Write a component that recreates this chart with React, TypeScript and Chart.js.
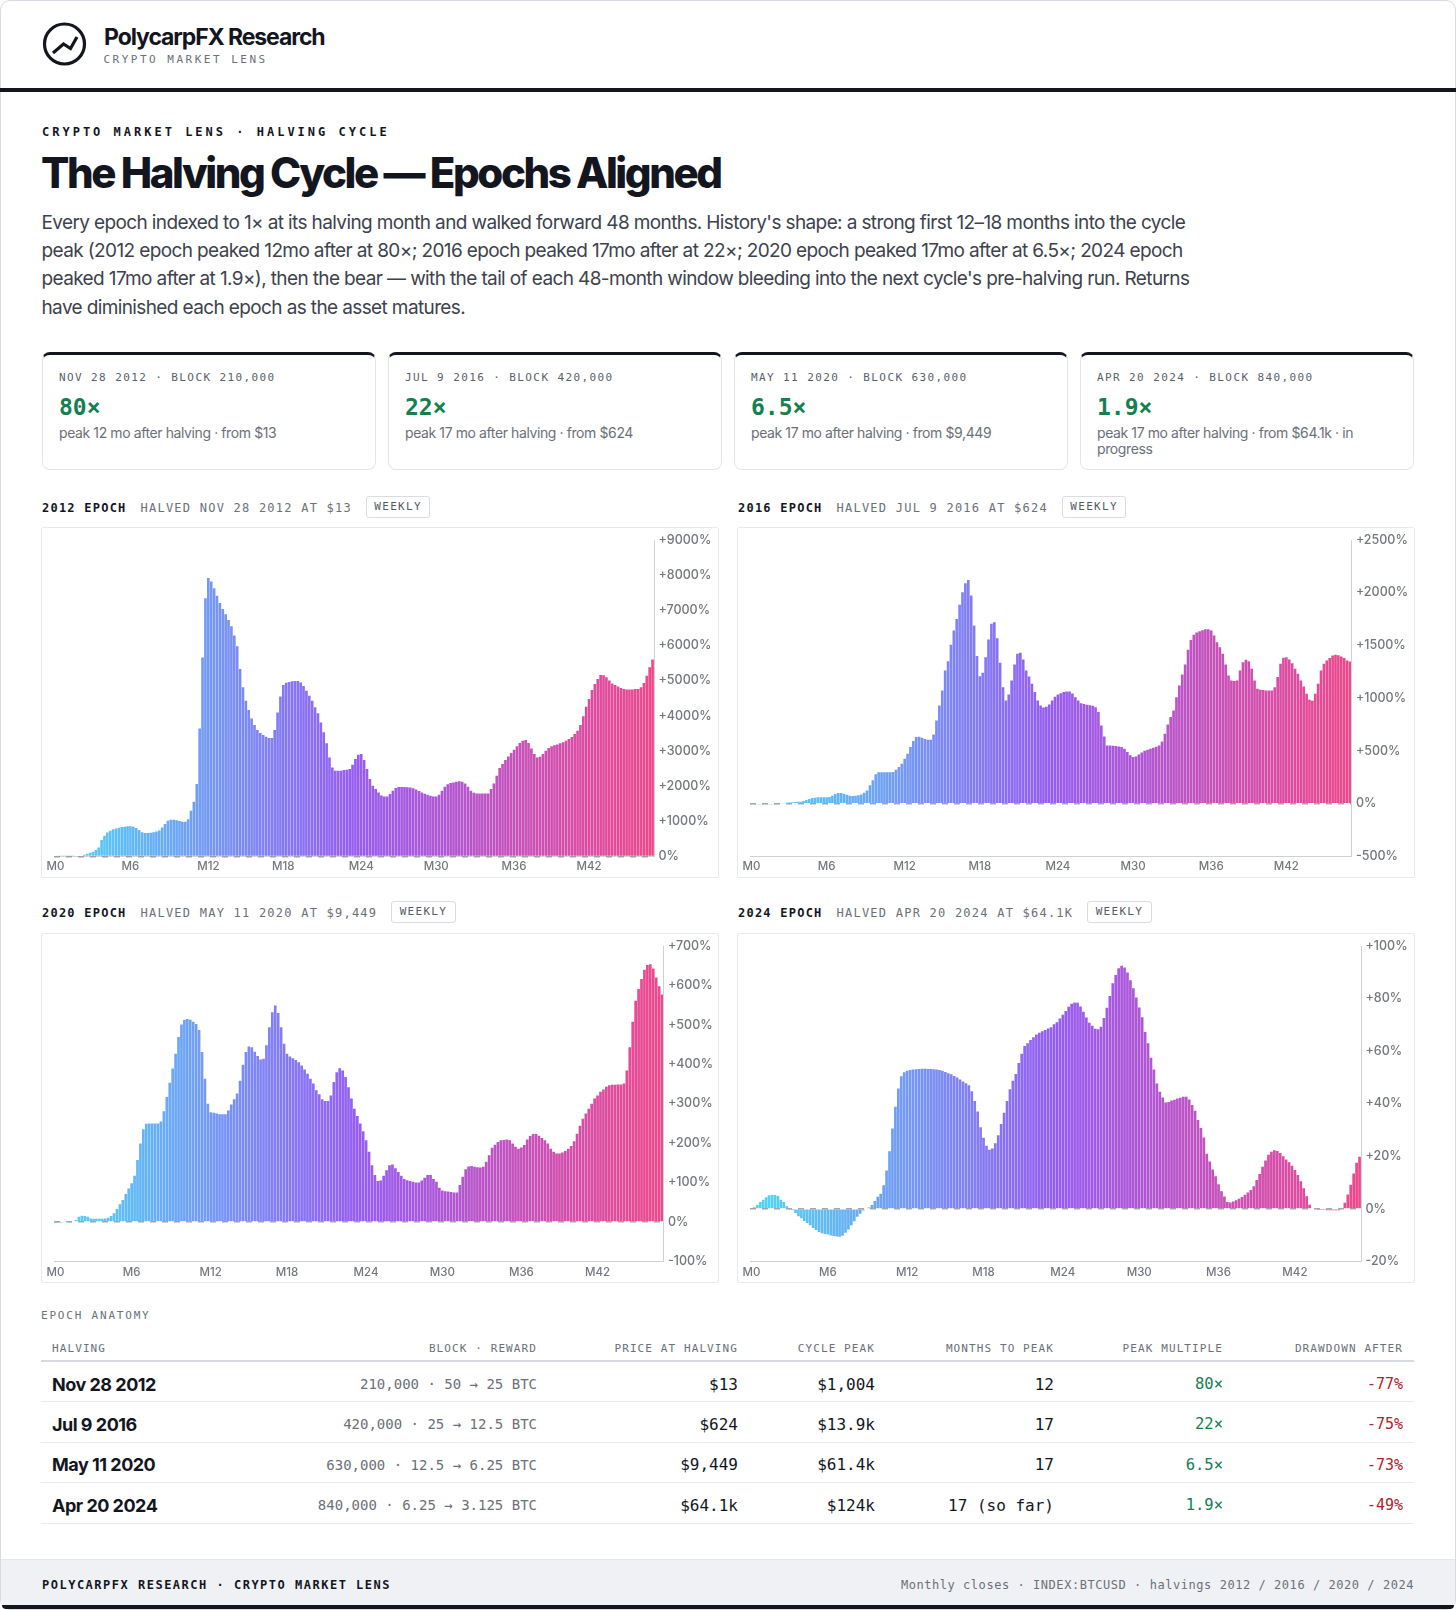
import React, { useEffect, useRef } from "react";
import { Chart, registerables } from "chart.js";
Chart.register(...registerables);

const pct2012 = [0,10,10,10,10,5,10,15,15,20,45,75,105,130,180,255,465,590,680,730,770,795,815,835,845,855,860,845,805,750,690,665,665,675,690,710,740,825,920,1015,1040,1045,1025,1005,985,985,1060,1300,1555,2060,3640,5660,7340,7920,7820,7630,7415,7205,7035,6885,6725,6545,6280,5975,5330,4810,4430,4165,3925,3735,3595,3510,3450,3405,3365,3365,3595,4095,4550,4875,4940,4960,4980,4990,4990,4950,4845,4715,4570,4430,4240,4070,3810,3530,3215,2815,2530,2435,2435,2435,2455,2465,2485,2610,2770,2890,2910,2740,2485,2200,2010,1915,1820,1735,1705,1705,1775,1870,1945,1975,1975,1975,1970,1960,1935,1905,1860,1820,1785,1755,1725,1705,1705,1755,1870,1980,2050,2085,2105,2125,2135,2125,2075,1980,1870,1810,1790,1790,1790,1790,1790,1915,2075,2295,2515,2625,2740,2845,2940,3035,3130,3225,3290,3310,3225,3070,2910,2815,2835,2910,3005,3080,3130,3160,3185,3215,3245,3290,3340,3395,3480,3575,3735,3985,4260,4475,4730,4905,5045,5160,5150,5095,5000,4920,4875,4830,4790,4760,4750,4750,4750,4760,4760,4810,4930,5140,5380,5600];
const pct2016 = [-3,-3,-3,-3,-3,-3,-2,-3,-2,-2,0,3,9,10,13,16,19,19,25,35,44,54,57,60,60,60,60,63,76,92,101,101,95,85,76,73,76,79,88,104,126,174,221,278,297,297,297,297,297,300,322,347,379,426,474,537,594,631,635,625,612,606,606,657,789,931,1073,1263,1351,1506,1642,1752,1885,2005,2090,2121,1973,1689,1399,1209,1241,1389,1556,1705,1720,1569,1335,1105,979,1035,1168,1320,1421,1430,1367,1263,1206,1137,1058,979,931,912,918,941,979,1013,1035,1048,1058,1064,1064,1045,1010,979,953,944,938,934,928,915,868,742,638,552,552,549,546,543,537,521,489,458,442,448,467,486,502,511,521,530,540,552,590,663,751,821,884,1010,1121,1225,1320,1459,1553,1601,1623,1635,1645,1654,1654,1642,1594,1531,1484,1421,1320,1215,1168,1162,1168,1263,1342,1364,1351,1279,1168,1089,1080,1077,1073,1073,1073,1105,1200,1326,1383,1389,1367,1332,1279,1231,1168,1111,1042,985,976,1042,1137,1263,1326,1358,1380,1405,1411,1408,1395,1380,1358,1348];
const pct2020 = [-1,-1,-1,-2,-2,-1,0,5,13,16,15,13,9,8,8,8,8,9,11,15,22,33,45,56,71,85,98,117,157,199,235,249,250,250,250,250,255,281,317,353,389,427,469,501,513,515,513,508,502,487,431,363,300,278,277,275,273,273,273,283,298,311,326,358,399,431,445,443,432,421,412,414,448,494,532,549,530,494,452,427,420,415,411,405,397,387,376,363,351,334,324,311,307,307,321,355,380,390,384,368,342,313,287,269,250,230,207,178,144,119,104,105,117,131,144,146,136,127,117,109,106,104,102,100,100,105,112,119,119,109,102,87,80,78,77,76,75,75,94,115,134,141,142,140,139,138,140,153,169,188,196,203,207,208,209,207,199,191,186,189,195,209,218,223,223,219,213,207,199,186,178,174,174,176,180,186,193,205,224,244,262,275,287,300,313,321,330,336,343,347,348,348,349,349,351,384,443,508,561,591,616,640,652,654,643,620,598,577];
const pct2024 = [0,0.6,1.5,2.6,3.5,4.4,5.2,5.3,5.3,4.9,3.5,2.6,1,-0.1,-0.5,-1.6,-2.8,-3.6,-4.6,-5.4,-6.2,-7.3,-8.1,-8.8,-9.3,-9.6,-9.8,-10.1,-10.3,-10.5,-10.6,-10.2,-9.1,-7.9,-6.2,-4.7,-3,-1.9,-0.6,0,0.5,1.5,3,4.6,5.7,9,14.6,21.9,30.6,38.8,45.8,50.4,52,52.5,52.8,53,53.1,53.2,53.3,53.3,53.2,53.2,53.1,53,52.8,52.5,52.1,51.6,51.2,50.5,50,49.2,48.4,47.8,47,44.7,41,37,31,27,24,22.5,23,25,28,32.3,36.6,41,45.5,48.7,51.3,55.5,59,62,63,64.2,65.3,66.3,67,67.6,68,68.6,69.1,70.2,71,72.4,73.8,75.3,76.9,78,78.5,78.4,77,75,72.8,70.8,69.7,68.5,68.3,69.3,72.6,76.5,81,85.8,89,91.5,92.5,91.8,89.9,87,83.9,80.4,76.6,72.9,67.3,63,57.5,53,47.7,44.5,42.4,40.5,40.6,41.2,41.5,42,42.3,42.6,42.6,41.6,39.5,37.3,33.8,30.8,27.1,21,18,15,12.4,9.4,6.7,4.7,2.6,2.4,2.8,3.3,3.8,4.5,5.4,6.2,7.2,8.6,11,13.3,16,18.4,20.6,21.7,22.3,22,21.2,20,18.8,17.7,16.4,14.8,12.9,10.5,7.8,4.8,1.6,0,-0.3,-0.4,-0.4,-0.4,-0.5,-0.5,-0.5,-0.5,-0.5,0,2.3,5.5,9.2,13.4,17.5,19.8];

const weekTickIndex = [0, 26, 53, 79, 106, 132, 159, 185];
const weekTickLabel = ["M0", "M6", "M12", "M18", "M24", "M30", "M36", "M42"];
const yMins = [0, -500, -100, -20];
const yMaxs = [9000, 2500, 700, 100];
const ySteps = [1000, 500, 100, 20];
const epochNames = ["2012 EPOCH", "2016 EPOCH", "2020 EPOCH", "2024 EPOCH"];
const epochNotes = ["HALVED NOV 28 2012 AT $13", "HALVED JUL 9 2016 AT $624", "HALVED MAY 11 2020 AT $9,449", "HALVED APR 20 2024 AT $64.1K"];
const epochSeries = [pct2012, pct2016, pct2020, pct2024];
const axisWidths = [64, 62.6, 54.5, 53];

const cardDates = ["NOV 28 2012 · BLOCK 210,000", "JUL 9 2016 · BLOCK 420,000", "MAY 11 2020 · BLOCK 630,000", "APR 20 2024 · BLOCK 840,000"];
const cardValues = ["80×", "22×", "6.5×", "1.9×"];
const cardNotes = ["peak 12 mo after halving · from $13", "peak 17 mo after halving · from $624", "peak 17 mo after halving · from $9,449", "peak 17 mo after halving · from $64.1k · in progress"];
const introLines = [
  "Every epoch indexed to 1× at its halving month and walked forward 48 months. History's shape: a strong first 12–18 months into the cycle",
  "peak (2012 epoch peaked 12mo after at 80×; 2016 epoch peaked 17mo after at 22×; 2020 epoch peaked 17mo after at 6.5×; 2024 epoch",
  "peaked 17mo after at 1.9×), then the bear — with the tail of each 48-month window bleeding into the next cycle's pre-halving run. Returns",
  "have diminished each epoch as the asset matures.",
];
const tableHead = ["HALVING", "BLOCK · REWARD", "PRICE AT HALVING", "CYCLE PEAK", "MONTHS TO PEAK", "PEAK MULTIPLE", "DRAWDOWN AFTER"];
const tableRows = [
  ["Nov 28 2012", "210,000 · 50 → 25 BTC", "$13", "$1,004", "12", "80×", "-77%"],
  ["Jul 9 2016", "420,000 · 25 → 12.5 BTC", "$624", "$13.9k", "17", "22×", "-75%"],
  ["May 11 2020", "630,000 · 12.5 → 6.25 BTC", "$9,449", "$61.4k", "17", "6.5×", "-73%"],
  ["Apr 20 2024", "840,000 · 6.25 → 3.125 BTC", "$64.1k", "$124k", "17 (so far)", "1.9×", "-49%"],
];
const colWidths = [190, 317, 201, 137, 179, 169, 180];

const MONO = '"DejaVu Sans Mono", monospace';
const SANS = 'Inter, sans-serif';
const INK = "#14161f";
const GREY = "#6b7079";

const colorStops = [[80, 216, 248], [150, 92, 242], [238, 72, 140]];
function barColor(t: number) {
  const s = t < 0.5 ? 0 : 1;
  const f = t < 0.5 ? t * 2 : (t - 0.5) * 2;
  const a = colorStops[s], b = colorStops[s + 1];
  return `rgb(${a.map((c, k) => Math.round(c + (b[k] - c) * f)).join(",")})`;
}

function EpochChart({ index }: { index: number }) {
  const ref = useRef<HTMLCanvasElement>(null);
  const bottomRow = index >= 2;
  const canvasHeight = bottomRow ? 348 : 349;
  useEffect(() => {
    const values = epochSeries[index];
    const labels = values.map((_, i) => {
      const k = weekTickIndex.indexOf(i);
      return k >= 0 ? weekTickLabel[k] : "";
    });
    const chart = new Chart(ref.current as HTMLCanvasElement, {
      type: "bar",
      data: {
        labels,
        datasets: [{
          data: values,
          backgroundColor: values.map((_, i) => barColor(i / (values.length - 1))),
          borderWidth: 0,
          barPercentage: 0.92,
          categoryPercentage: 1,
        }],
      },
      options: {
        animation: false,
        responsive: false,
        layout: { padding: { left: 12, top: 9.2, right: 0, bottom: 0 } },
        plugins: { legend: { display: false }, tooltip: { enabled: false } },
        scales: {
          x: {
            grid: { display: false, drawTicks: false },
            border: { display: true, color: "#cfd1d6", width: 1 },
            ticks: {
              autoSkip: false, maxRotation: 0, minRotation: 0, padding: bottomRow ? 4 : 3,
              font: { family: SANS, size: 11.5, weight: 500 }, color: "#74777e",
            },
            afterFit: (s: any) => { s.height = 20.6; },
          },
          y: {
            position: "right",
            min: yMins[index],
            max: yMaxs[index],
            grid: {
              z: 1,
              drawTicks: false,
              color: (c: any) => (c.tick && c.tick.value === 0 ? "rgba(150,152,158,0.85)" : "rgba(0,0,0,0)"),
              lineWidth: (c: any) => (c.tick && c.tick.value === 0 ? 1.4 : 0),
            },
            border: { display: true, color: "#cfd1d6", width: 1, dash: [6, 6], z: 2 },
            ticks: {
              stepSize: ySteps[index], padding: 4.5,
              font: { family: SANS, size: 12.5, weight: 500 }, color: "#74777e",
              callback: (v: any) => (Number(v) > 0 ? `+${v}%` : `${v}%`),
            },
            afterFit: (s: any) => { s.width = axisWidths[index]; },
          },
        },
      } as any,
    });
    return () => chart.destroy();
  }, [index]);
  return <canvas ref={ref} width={676} height={canvasHeight} style={{ display: "block", width: 676, height: canvasHeight }} />;
}

function Abs({ x, y, w, style, children }: any) {
  return <div style={{ position: "absolute", left: x, top: y, width: w, ...style }}>{children}</div>;
}

function Panel({ index, x, y, frameTop, frameHeight }: { index: number; x: number; y: number; frameTop: number; frameHeight: number }) {
  return (
    <>
      <Abs x={x + 1} y={y + 1} w={678} style={{ height: 22, display: "flex", alignItems: "center", gap: 14, fontFamily: MONO, fontSize: 12, letterSpacing: 1.23, whiteSpace: "nowrap" }}>
        <span style={{ fontWeight: 700, color: INK, position: "relative", top: 1 }}>{epochNames[index]}</span>
        <span style={{ color: GREY, position: "relative", top: 1 }}>{epochNotes[index]}</span>
        <span style={{ border: "1px solid #d9dce3", borderRadius: 3, height: 20, lineHeight: "20px", padding: "0 7.4px", fontSize: 11, letterSpacing: 1.3, color: "#555a64", boxSizing: "content-box" }}>WEEKLY</span>
      </Abs>
      <Abs x={x} y={frameTop} w={678} style={{ height: frameHeight, border: "1px solid #e8eaee", boxSizing: "border-box", borderRadius: 2 }}>
        <EpochChart index={index} />
      </Abs>
    </>
  );
}

export default function App() {
  const nowrap = { whiteSpace: "nowrap" as const };
  return (
    <div style={{ position: "relative", width: 1456, height: 1610, overflow: "hidden", background: "#fff", fontFamily: SANS }}>
      <style>{"body{margin:0;background:#fff}"}</style>
      <div style={{ position: "absolute", inset: 0, border: "1px solid #d8dbe2", borderRadius: 10, boxSizing: "border-box", pointerEvents: "none" }} />

      <svg style={{ position: "absolute", left: 42, top: 22 }} width="45" height="45" viewBox="0 0 45 45">
        <circle cx="22.5" cy="22" r="20" fill="none" stroke={INK} strokeWidth="3.2" />
        <polyline points="11,31 21.5,22 28.5,26.5 35,15" fill="none" stroke={INK} strokeWidth="3.2" strokeLinejoin="miter" />
      </svg>
      <Abs x={104} y={22} style={{ ...nowrap, fontSize: 23, lineHeight: "30px", fontWeight: 700, letterSpacing: -1.08, color: INK }}>PolycarpFX Research</Abs>
      <Abs x={103.5} y={52.5} style={{ ...nowrap, fontFamily: MONO, fontSize: 11, lineHeight: "14px", letterSpacing: 2.5, color: GREY }}>CRYPTO MARKET LENS</Abs>
      <div style={{ position: "absolute", left: 0, top: 88, width: 1456, height: 4, background: INK }} />

      <Abs x={42} y={123.5} style={{ ...nowrap, fontFamily: MONO, fontSize: 12, lineHeight: "16px", fontWeight: 600, letterSpacing: 3, color: INK }}>CRYPTO MARKET LENS · HALVING CYCLE</Abs>
      <Abs x={41} y={148} style={{ ...nowrap, fontSize: 42, lineHeight: "50px", fontWeight: 800, letterSpacing: -2.45, color: INK }}>The Halving Cycle — Epochs Aligned</Abs>
      {introLines.map((t, i) => (
        <Abs key={i} x={41.5} y={209 + i * 28.2} style={{ ...nowrap, fontSize: 19, lineHeight: "28px", letterSpacing: -0.62, color: "#3d424d" }}>{t}</Abs>
      ))}

      {cardDates.map((d, i) => (
        <Abs key={i} x={42 + i * 346} y={351.5} w={334} style={{ height: 118, boxSizing: "border-box", border: "1px solid #e3e5ea", borderTop: `3px solid ${INK}`, borderRadius: 8 }}>
          <div style={{ position: "absolute", left: 16, top: 16.5, ...nowrap, fontFamily: MONO, fontSize: 11, lineHeight: "14px", letterSpacing: 1.4, color: "#5a5f6a" }}>{d}</div>
          <div style={{ position: "absolute", left: 16, top: 37.3, ...nowrap, fontFamily: MONO, fontSize: 23, lineHeight: "30px", fontWeight: 700, color: "#14804f" }}>{cardValues[i]}</div>
          <div style={{ position: "absolute", left: 16, top: 70, width: 300, fontSize: 14, lineHeight: "16px", letterSpacing: -0.4, color: GREY }}>{cardNotes[i]}</div>
        </Abs>
      ))}

      <Panel index={0} x={41} y={494.5} frameTop={527} frameHeight={351} />
      <Panel index={1} x={737} y={494.5} frameTop={527} frameHeight={351} />
      <Panel index={2} x={41} y={899.7} frameTop={933} frameHeight={350} />
      <Panel index={3} x={737} y={899.7} frameTop={933} frameHeight={350} />

      <Abs x={41} y={1308} style={{ ...nowrap, fontFamily: MONO, fontSize: 11, lineHeight: "16px", letterSpacing: 1.8, color: GREY }}>EPOCH ANATOMY</Abs>
      <table style={{ position: "absolute", left: 41, top: 1336, width: 1373, tableLayout: "fixed", borderCollapse: "collapse" }}>
        <colgroup>{colWidths.map((w, i) => <col key={i} style={{ width: w }} />)}</colgroup>
        <thead>
          <tr style={{ height: 25, borderBottom: "2px solid #d7dae1" }}>
            {tableHead.map((h, i) => (
              <th key={i} style={{ padding: "0 11px", textAlign: i === 0 ? "left" : "right", fontFamily: MONO, fontSize: 11, fontWeight: 400, letterSpacing: 1.1, color: GREY, whiteSpace: "nowrap" }}>{h}</th>
            ))}
          </tr>
        </thead>
        <tbody>
          {tableRows.map((r, ri) => (
            <tr key={ri} style={{ height: 40.5, borderBottom: "1.5px solid #e8eaee" }}>
              {r.map((c, i) => {
                const base: any = { padding: "5px 11px 0", textAlign: i === 0 ? "left" : "right", whiteSpace: "nowrap" };
                if (i === 0) Object.assign(base, { fontFamily: SANS, fontSize: 18, fontWeight: 700, letterSpacing: -0.5, color: INK });
                else if (i === 1) Object.assign(base, { fontFamily: MONO, fontSize: 14, color: GREY });
                else if (i === 5) Object.assign(base, { fontFamily: MONO, fontSize: 15.5, color: "#14804f" });
                else if (i === 6) Object.assign(base, { fontFamily: MONO, fontSize: 15, color: "#b3202c" });
                else Object.assign(base, { fontFamily: MONO, fontSize: 16, color: INK });
                return <td key={i} style={base}>{c}</td>;
              })}
            </tr>
          ))}
        </tbody>
      </table>

      <div style={{ position: "absolute", left: 1, top: 1559, width: 1454, height: 47, background: "#f0f1f4", borderTop: "1px solid #e6e8ec", boxSizing: "border-box" }} />
      <div style={{ position: "absolute", left: 2, top: 1605, width: 1452, height: 4, background: INK, borderRadius: "0 0 8px 8px" }} />
      <Abs x={42} y={1576.8} style={{ ...nowrap, fontFamily: MONO, fontSize: 12, lineHeight: "16px", fontWeight: 600, letterSpacing: 1.5, color: INK }}>POLYCARPFX RESEARCH · CRYPTO MARKET LENS</Abs>
      <div style={{ position: "absolute", right: 42, top: 1576.8, ...nowrap, fontFamily: MONO, fontSize: 12, lineHeight: "16px", letterSpacing: 0.55, color: GREY }}>Monthly closes · INDEX:BTCUSD · halvings 2012 / 2016 / 2020 / 2024</div>
    </div>
  );
}
